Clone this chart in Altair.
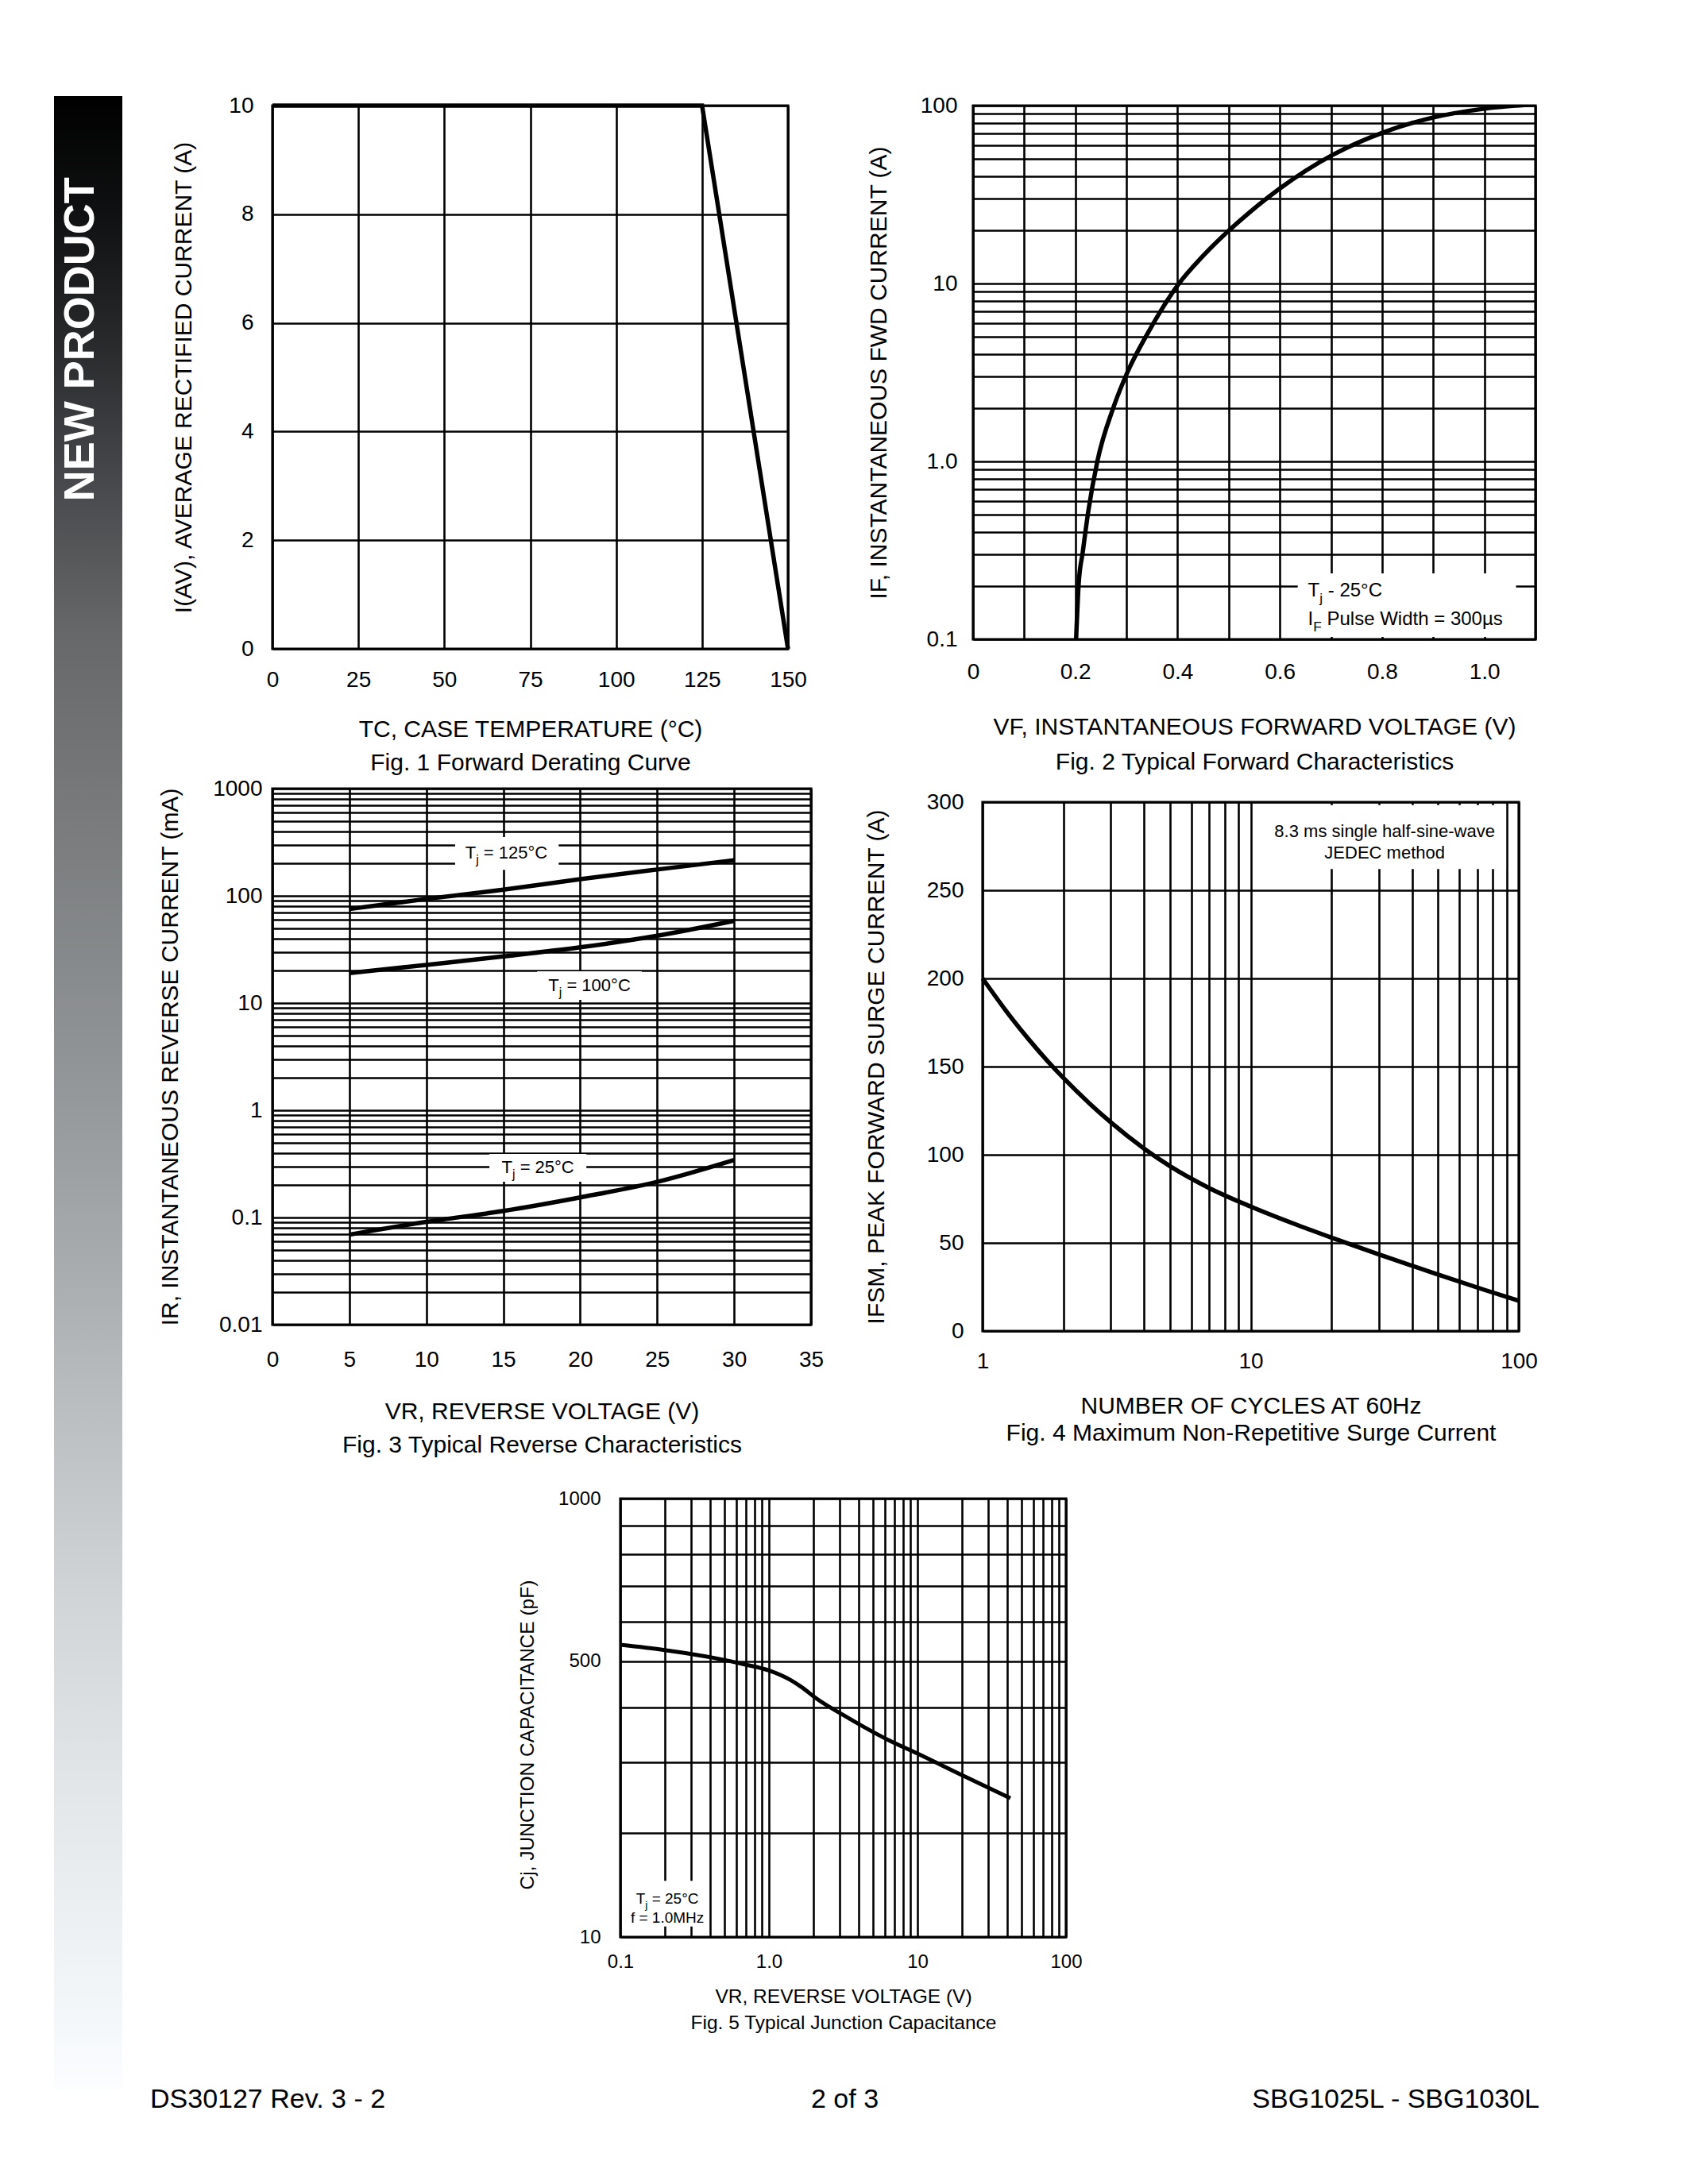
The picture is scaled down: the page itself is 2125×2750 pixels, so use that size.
import altair as alt
import pandas as pd

FONT = "Liberation Sans"

# ===================== DATA =====================
# Fig. 1  Forward Derating Curve
F1_TC = [0, 125, 150]
F1_IAV = [10, 10, 0]
F1_XTICKS = [0, 25, 50, 75, 100, 125, 150]
F1_YTICKS = [0, 2, 4, 6, 8, 10]
F1_XTITLE = ["TC, CASE TEMPERATURE (°C)", "Fig. 1  Forward Derating Curve"]
F1_YTITLE = "I(AV), AVERAGE RECTIFIED CURRENT (A)"

# Fig. 2  Typical Forward Characteristics
F2_VF = [0.2015, 0.2065, 0.2145, 0.2255, 0.243, 0.275, 0.301, 0.3425, 0.402, 0.4488,
         0.5015, 0.5363, 0.598, 0.703, 0.804, 0.9005, 1.0005, 1.1]
F2_IF = [0.1, 0.204, 0.309, 0.528, 1.0, 2.03, 3.13, 5.31, 9.94, 14.2,
         20.0, 24.5, 33.9, 52.8, 71.0, 85.8, 96.1, 101.7]
F2_XTICKS = [0.0, 0.1, 0.2, 0.3, 0.4, 0.5, 0.6, 0.7, 0.8, 0.9, 1.0, 1.1]
F2_XLAB_VAL = [0.0, 0.2, 0.4, 0.6, 0.8, 1.0]
F2_XLAB_TXT = ["0", "0.2", "0.4", "0.6", "0.8", "1.0"]
F2_YLAB_VAL = [0.1, 1.0, 10.0, 100.0]
F2_YLAB_TXT = ["0.1", "1.0", "10", "100"]
F2_XTITLE = ["VF, INSTANTANEOUS FORWARD VOLTAGE (V)", "Fig. 2  Typical Forward Characteristics"]
F2_YTITLE = "IF, INSTANTANEOUS FWD CURRENT (A)"
F2_BOX_X1, F2_BOX_X2, F2_BOX_Y1, F2_BOX_Y2 = [0.635], [1.062], [0.103], [0.235]
F2_NOTE_X = [0.655, 0.655]
F2_NOTE_Y = [0.187, 0.129]
F2_NOTE = [("T", "j", " - 25°C"), ("I", "F", " Pulse Width = 300µs")]

# Fig. 3  Typical Reverse Characteristics
F3_VR = [5, 10, 15, 20, 25, 30]
F3_IR_125 = [75.3, 93.6, 114, 143, 176, 215]
F3_IR_100 = [19.0, 22.7, 27.2, 33.1, 42.4, 58.4]
F3_IR_25 = [0.0692, 0.091, 0.115, 0.154, 0.215, 0.344]
F3_XTICKS = [0, 5, 10, 15, 20, 25, 30, 35]
F3_YLAB_VAL = [0.01, 0.1, 1.0, 10.0, 100.0, 1000.0]
F3_YLAB_TXT = ["0.01", "0.1", "1", "10", "100", "1000"]
F3_XTITLE = ["VR, REVERSE VOLTAGE (V)", "Fig. 3  Typical Reverse Characteristics"]
F3_YTITLE = "IR, INSTANTANEOUS REVERSE CURRENT (mA)"
F3_BOX_X1 = [11.87, 17.2, 14.1]
F3_BOX_X2 = [18.6, 24.0, 20.4]
F3_BOX_Y1 = [175, 10.7, 0.215]
F3_BOX_Y2 = [353, 19.8, 0.392]
F3_NOTE_X = [15.2, 20.6, 17.25]
F3_NOTE_Y = [251, 14.6, 0.293]
F3_NOTE = [("T", "j", " = 125°C"), ("T", "j", " = 100°C"), ("T", "j", " = 25°C")]

# Fig. 4  Maximum Non-Repetitive Surge Current
F4_N = [1, 1.25, 1.5, 1.75, 2, 2.5, 3, 4, 5, 7, 10, 15, 20, 30, 50, 75, 100]
F4_I = [200, 179.7, 164.7, 153, 143.6, 129.2, 118.5, 103.5, 93.5, 81.1, 70.6,
        60, 53, 43.5, 32, 23.2, 17.2]
F4_YTICKS = [0, 50, 100, 150, 200, 250, 300]
F4_XLAB_VAL = [1.0, 10.0, 100.0]
F4_XLAB_TXT = ["1", "10", "100"]
F4_XTITLE = ["NUMBER OF CYCLES AT 60Hz", "Fig. 4  Maximum Non-Repetitive Surge Current"]
F4_YTITLE = "IFSM, PEAK FORWARD SURGE CURRENT (A)"
F4_BOX_X1, F4_BOX_X2, F4_BOX_Y1, F4_BOX_Y2 = [10.45], [89.7], [262], [298.3]
F4_NOTE_X = [31.6, 31.6]
F4_NOTE_Y = [283.3, 271.2]
F4_NOTE = ["8.3 ms single half-sine-wave", "JEDEC method"]

# Fig. 5  Typical Junction Capacitance
F5_VR = [0.1, 0.199, 0.428, 0.686, 1.0, 1.39, 1.66, 2.09, 3.16, 4.37, 6.41, 10, 19.6, 42.2]
F5_CJ = [540, 527, 508, 493, 479, 458, 442, 418, 385, 362, 338, 315, 281, 246]
F5_YTICKS = [100, 200, 300, 400, 500, 600, 700, 800, 900, 1000]
F5_YLAB_VAL = [100, 500, 1000]
F5_YLAB_TXT = ["10", "500", "1000"]
F5_XLAB_VAL = [0.1, 1.0, 10.0, 100.0]
F5_XLAB_TXT = ["0.1", "1.0", "10", "100"]
F5_XTITLE = ["VR, REVERSE VOLTAGE (V)", "Fig. 5  Typical Junction Capacitance"]
F5_YTITLE = "Cj, JUNCTION CAPACITANCE (pF)"
F5_BOX_X1, F5_BOX_X2, F5_BOX_Y1, F5_BOX_Y2 = [0.104], [0.385], [108], [148]
F5_NOTE_X = [0.207, 0.207]
F5_NOTE_Y = [131, 114.5]
F5_NOTE_1 = ("T", "j", " = 25°C")
F5_NOTE_2 = "f = 1.0MHz"

# Page furniture
SIDEBAR_TEXT = "NEW PRODUCT"
FOOTER_TEXT = ["DS30127 Rev. 3 - 2", "2 of 3", "SBG1025L - SBG1030L"]

# ===================== HELPERS =====================
AW = {c: 556 for c in "0123456789"}
AW.update({" ": 278, "-": 333, ".": 278, ",": 278, "=": 584, "°": 400, "µ": 576, "(": 333, ")": 333})
AW.update(dict(zip("ABCDEFGHIJKLMNOPQRSTUVWXYZ",
                   [667, 667, 722, 722, 667, 611, 778, 722, 278, 500, 667, 556, 833,
                    722, 778, 667, 778, 722, 667, 611, 722, 667, 944, 667, 667, 611])))
AW.update(dict(zip("abcdefghijklmnopqrstuvwxyz",
                   [556, 556, 500, 556, 556, 278, 556, 556, 222, 222, 500, 222, 833,
                    556, 556, 556, 556, 333, 500, 278, 556, 500, 722, 500, 500, 500])))


def tw(s, fs):
    return sum(AW.get(c, 556) for c in s) / 1000.0 * fs


def log_grid(lo, hi):
    vals = [round(k * 10.0 ** e, 6) for e in range(lo, hi) for k in range(1, 10)]
    return vals + [round(10.0 ** hi, 6)]


def lab_expr(vals, txts):
    e = "''"
    for v, t in reversed(list(zip(vals, txts))):
        e = f"datum.value == {v!r} ? '{t}' : ({e})"
    return e


BASE_AX = dict(grid=True, gridColor="black", gridWidth=2.6, gridOpacity=1, domain=False,
               ticks=False, tickSize=0, labelFont=FONT, labelColor="black", labelFlush=False,
               labelOverlap=False, titleFont=FONT, titleColor="black", titleFontWeight="normal")


def x_axis(values, lsize, lpad, title, tsize, lh, ty, expr=None):
    kw = dict(BASE_AX, values=values, labelFontSize=lsize, labelPadding=lpad, title=title,
              titleFontSize=tsize, titleLineHeight=lh, titleBaseline="top", titleY=ty)
    if expr:
        kw["labelExpr"] = expr
    return alt.Axis(**kw)


def y_axis(values, lsize, lpad, title, tsize, tx, expr=None, ty=None):
    kw = dict(BASE_AX, values=values, labelFontSize=lsize, labelPadding=lpad, title=title,
              titleFontSize=tsize, titleBaseline="middle", titleX=tx)
    if expr:
        kw["labelExpr"] = expr
    if ty is not None:
        kw["titleY"] = ty
    return alt.Axis(**kw)


class Panel:
    def __init__(self, xs, ys, xa, ya):
        self.xs, self.ys, self.xa, self.ya = xs, ys, xa, ya
        self.layers = []

    def X(self, f):
        return alt.X(f, type="quantitative", scale=self.xs, axis=self.xa)

    def Y(self, f):
        return alt.Y(f, type="quantitative", scale=self.ys, axis=self.ya)

    def line(self, xv, yv, group=None, sw=5.5, interp="monotone", clip=False):
        df = pd.DataFrame({"x": xv, "y": yv})
        enc = dict(x=self.X("x"), y=self.Y("y"))
        if group is not None:
            df["g"] = group
            enc["detail"] = "g:N"
        self.layers.append(alt.Chart(df).mark_line(color="black", strokeWidth=sw,
                                                   interpolate=interp, clip=clip).encode(**enc))

    def boxes(self, x1, x2, y1, y2):
        df = pd.DataFrame({"x": x1, "x2": x2, "y": y1, "y2": y2})
        self.layers.append(alt.Chart(df).mark_rect(color="white").encode(
            x=self.X("x"), x2="x2", y=self.Y("y"), y2="y2"))

    def text(self, x, y, txt, fs, align="center"):
        df = pd.DataFrame({"x": [x], "y": [y]})
        self.layers.append(alt.Chart(df).mark_text(
            text=txt, align=align, baseline="middle", fontSize=fs, font=FONT, color="black"
        ).encode(x=self.X("x"), y=self.Y("y")))

    def note(self, x, y, main, sub, rest, fs, align="center"):
        sfs = round(fs * 0.72, 1)
        wm, ws, wr = tw(main, fs), tw(sub, sfs), tw(rest, fs)
        start = -(wm + ws + wr) / 2.0 if align == "center" else 0.0
        lead = len(rest) - len(rest.lstrip(" "))
        pieces = [(main, fs, start, 0.0), (sub, sfs, start + wm, 0.4 * fs),
                  (rest.lstrip(" "), fs, start + wm + ws + tw(" " * lead, fs), 0.0)]
        df = pd.DataFrame({"x": [x], "y": [y]})
        for txt, size, dx, dy in pieces:
            if txt:
                self.layers.append(alt.Chart(df).mark_text(
                    text=txt, align="left", baseline="middle", dx=round(dx, 2), dy=round(dy, 2),
                    fontSize=size, font=FONT, color="black"
                ).encode(x=self.X("x"), y=self.Y("y")))

    def chart(self, w, h):
        return alt.layer(*self.layers).properties(
            width=w, height=h, view=alt.ViewBackground(stroke="black", strokeWidth=3.2))


def lin(domain):
    return alt.Scale(domain=domain, nice=False, zero=False)


def logs(domain):
    return alt.Scale(type="log", domain=domain, nice=False)


# ===================== FIGURES =====================
p1 = Panel(lin([0, 150]), lin([0, 10]),
           x_axis(F1_XTICKS, 28, 25, F1_XTITLE, 30, 42, 86),
           y_axis(F1_YTICKS, 28, 24, F1_YTITLE, 30, -112))
p1.line(F1_TC, F1_IAV, interp="linear")
fig1 = p1.chart(649, 684)

p2 = Panel(lin([0, 1.1]), logs([0.1, 100]),
           x_axis(F2_XTICKS, 28, 27, F2_XTITLE, 30, 44, 95, lab_expr(F2_XLAB_VAL, F2_XLAB_TXT)),
           y_axis(log_grid(-1, 2), 28, 20, F2_YTITLE, 30, -119, lab_expr(F2_YLAB_VAL, F2_YLAB_TXT)))
p2.line(F2_VF, F2_IF, clip=True)
p2.boxes(F2_BOX_X1, F2_BOX_X2, F2_BOX_Y1, F2_BOX_Y2)
for i in range(2):
    p2.note(F2_NOTE_X[i], F2_NOTE_Y[i], *F2_NOTE[i], 24, align="left")
fig2 = p2.chart(708, 672)

p3 = Panel(lin([0, 35]), logs([0.01, 1000]),
           x_axis(F3_XTICKS, 28, 30, F3_XTITLE, 30, 42, 94),
           y_axis(log_grid(-2, 3), 28, 13, F3_YTITLE, 30, -129, lab_expr(F3_YLAB_VAL, F3_YLAB_TXT)))
p3.line(F3_VR * 3, F3_IR_125 + F3_IR_100 + F3_IR_25,
        group=["125"] * 6 + ["100"] * 6 + ["25"] * 6)
p3.boxes(F3_BOX_X1, F3_BOX_X2, F3_BOX_Y1, F3_BOX_Y2)
for i in range(3):
    p3.note(F3_NOTE_X[i], F3_NOTE_Y[i], *F3_NOTE[i], 22)
fig3 = p3.chart(678, 675)

p4 = Panel(logs([1, 100]), lin([0, 300]),
           x_axis(log_grid(0, 2), 28, 24, F4_XTITLE, 30, 34, 79, lab_expr(F4_XLAB_VAL, F4_XLAB_TXT)),
           y_axis(F4_YTICKS, 28, 24, F4_YTITLE, 30, -134))
p4.line(F4_N, F4_I)
p4.boxes(F4_BOX_X1, F4_BOX_X2, F4_BOX_Y1, F4_BOX_Y2)
for i in range(2):
    p4.text(F4_NOTE_X[i], F4_NOTE_Y[i], F4_NOTE[i], 22)
fig4 = p4.chart(675, 666)

p5 = Panel(logs([0.1, 100]),
           alt.Scale(type="pow", exponent=0.28, domain=[100, 1000], nice=False, zero=False),
           x_axis(log_grid(-1, 2), 24, 19, F5_XTITLE, 24.5, 33, 63, lab_expr(F5_XLAB_VAL, F5_XLAB_TXT)),
           y_axis(F5_YTICKS, 24, 25, F5_YTITLE, 24.5, -117, lab_expr(F5_YLAB_VAL, F5_YLAB_TXT), ty=297))
p5.line(F5_VR, F5_CJ, sw=5)
p5.boxes(F5_BOX_X1, F5_BOX_X2, F5_BOX_Y1, F5_BOX_Y2)
p5.note(F5_NOTE_X[0], F5_NOTE_Y[0], *F5_NOTE_1, 19)
p5.text(F5_NOTE_X[1], F5_NOTE_Y[1], F5_NOTE_2, 19)
fig5 = p5.chart(561, 552)

# ===================== PAGE FURNITURE =====================
ONE = alt.Data(values=[{"k": 0}])
UNIT = alt.Scale(domain=[0, 1], nice=False, zero=False)

GRAD = {"gradient": "linear", "x1": 0, "x2": 0, "y1": 0, "y2": 1,
        "stops": [{"offset": 0.0, "color": "#000000"}, {"offset": 0.06, "color": "#101112"},
                  {"offset": 0.12, "color": "#26282a"}, {"offset": 0.19, "color": "#45474a"},
                  {"offset": 0.27, "color": "#666869"}, {"offset": 0.47, "color": "#8e9193"},
                  {"offset": 0.58, "color": "#a7aaad"}, {"offset": 0.65, "color": "#b9bcbf"},
                  {"offset": 0.755, "color": "#d2d5d7"}, {"offset": 0.86, "color": "#e5e8ea"},
                  {"offset": 0.97, "color": "#f5f8fb"}, {"offset": 1.0, "color": "#fbfdff"}]}

side_rect = alt.Chart(ONE).mark_rect(fill=GRAD).encode(
    x=alt.XDatum(0, type="quantitative", scale=UNIT, axis=None), x2=alt.X2Datum(1),
    y=alt.YDatum(0, type="quantitative", scale=UNIT, axis=None), y2=alt.Y2Datum(1))
side_text = alt.Chart(ONE).mark_text(
    text=SIDEBAR_TEXT, angle=270, align="center", baseline="middle", font=FONT,
    fontWeight="bold", fontSize=54, color="white"
).encode(x=alt.XDatum(0.4, type="quantitative", scale=UNIT, axis=None),
         y=alt.YDatum(0.878, type="quantitative", scale=UNIT, axis=None))
sidebar = alt.layer(side_rect, side_text).properties(width=86, height=2511)

foot_layers = []
for txt, pos, al in zip(FOOTER_TEXT, [0.0, 0.5, 1.0], ["left", "center", "right"]):
    foot_layers.append(alt.Chart(ONE).mark_text(
        text=txt, align=al, baseline="middle", font=FONT, fontSize=34, color="black"
    ).encode(x=alt.XDatum(pos, type="quantitative", scale=UNIT, axis=None),
             y=alt.YDatum(0.5, type="quantitative", scale=UNIT, axis=None)))
footer = alt.layer(*foot_layers).properties(width=1749, height=40)


def spacer(w, h):
    return alt.Chart(ONE).mark_point(opacity=0, size=1).properties(width=w, height=h)


# ===================== LAYOUT =====================
FL = dict(bounds="flush")
f4col = alt.vconcat(spacer(1, 17), fig4, spacing=0, **FL)
mid_row = alt.hconcat(fig3, f4col, spacing=216, **FL)
f5row = alt.hconcat(spacer(438, 1), fig5, spacing=0, **FL)
lower = alt.vconcat(mid_row, f5row, spacing=894, **FL)
top_row = alt.hconcat(fig1, fig2, spacing=233, **FL)
block = alt.vconcat(top_row, lower, spacing=860, **FL)
main = alt.vconcat(spacer(1, 12), block, spacing=0, **FL)
body = alt.hconcat(sidebar, main, spacing=189, **FL)
foot_row = alt.hconcat(spacer(121, 1), footer, spacing=0, **FL)
page = alt.vconcat(body, foot_row, spacing=2503, **FL).properties(
    padding={"left": 59, "top": 109, "right": 20, "bottom": 20}, background="white"
).configure_view(stroke="transparent")

page.save("out.html", embed_options={"renderer": "svg", "actions": False})
